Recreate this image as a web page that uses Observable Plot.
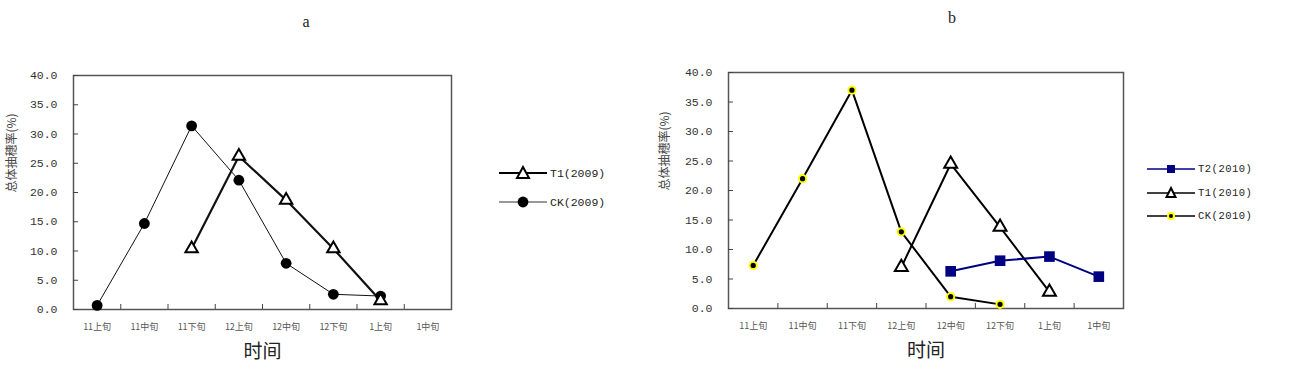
<!DOCTYPE html>
<html>
<head>
<meta charset="utf-8">
<script src="https://cdn.jsdelivr.net/npm/d3@7"></script>
<script src="https://cdn.jsdelivr.net/npm/@observablehq/plot@0.6"></script>
<style>
  html, body { margin: 0; padding: 0; background: #fff; }
  #wrap { position: relative; width: 1296px; height: 376px; overflow: hidden; font-family: "Liberation Serif", "Noto Sans CJK SC", serif; }
  .panel { position: absolute; top: 0; }
  .title { position: absolute; font-size: 16px; color: #222; font-family: "Liberation Serif", serif; transform: translate(-50%, -50%); }
  .legend { position: absolute; font-family: "Liberation Mono", "Noto Sans CJK SC", monospace; font-size: 11.5px; color: #222; }
  .legend .row { position: absolute; display: flex; align-items: center; white-space: nowrap; }
  .legend svg { display: block; }
</style>
</head>
<body>
<div id="wrap"></div>
<script>
// ---- data ----
const periods = ["11上旬", "11中旬", "11下旬", "12上旬", "12中旬", "12下旬", "1上旬", "1中旬"];
const yTicks = [0, 5, 10, 15, 20, 25, 30, 35, 40];
const yLabel = "总体抽穗率(%)";
const xLabel = "时间";

// panel a (2009)
const ck2009 = [0.7, 14.7, 31.4, 22.1, 7.9, 2.6, 2.3, null];
const t1_2009 = [null, null, 10.4, 26.2, 18.7, 10.4, 1.5, null];
// panel b (2010)
const t2_2010 = [null, null, null, null, 6.3, 8.1, 8.8, 5.4];
const t1_2010 = [null, null, null, 7.0, 24.5, 13.8, 2.8, null];
const ck2010 = [7.3, 22.0, 37.0, 13.0, 2.0, 0.7, null, null];

const seriesNames2009 = ["T1(2009)", "CK(2009)"];
const seriesNames2010 = ["T2(2010)", "T1(2010)", "CK(2010)"];

const rows = vals => vals.map((v, i) => ({x: i + 0.5, v})).filter(d => d.v != null);
const boundaries = d3.range(1, periods.length);
const centers = periods.map((p, i) => i + 0.5);

const tickFont = {fontFamily: "Liberation Mono, monospace", fontSize: 11.5, fill: "#333"};
const catFont = {fontFamily: "Noto Sans CJK SC, sans-serif", fontSize: 9, fill: "#555"};

function basePlot({width, marginLeft, marginRight, marginTop, marginBottom, marks, ylabDx, xlabDy}) {
  return Plot.plot({
    width, height: 376, marginLeft, marginRight, marginTop, marginBottom,
    style: {background: "transparent", overflow: "visible"},
    x: {type: "linear", domain: [0, periods.length]},
    y: {domain: [0, 40]},
    marks: [
      Plot.frame({stroke: "#555", strokeWidth: 1.5}),
      Plot.axisY({ticks: yTicks, tickSize: -5, tickPadding: 21, tickFormat: d => d.toFixed(1), label: null, stroke: "#444", ...tickFont}),
      Plot.axisX({ticks: boundaries, tickSize: -5, tickFormat: () => "", label: null, stroke: "#444"}),
      Plot.axisX({ticks: centers, tickSize: 0, tickPadding: 14, tickFormat: d => periods[Math.round(d - 0.5)], label: null, ...catFont}),
      Plot.text([yLabel], {text: d => d, frameAnchor: "left", rotate: -90, dx: ylabDx, fontFamily: "Noto Sans CJK SC, sans-serif", fontSize: 12, fill: "#444"}),
      Plot.text([xLabel], {text: d => d, frameAnchor: "bottom", dy: xlabDy, fontFamily: "Noto Sans CJK SC, sans-serif", fontSize: 19, fill: "#222"}),
      ...marks
    ]
  });
}

// ---- panel a ----
const plotA = basePlot({
  width: 470, marginLeft: 73, marginRight: 19, marginTop: 75, marginBottom: 67, ylabDx: -61, xlabDy: 48,
  marks: [
    Plot.line(rows(ck2009), {x: "x", y: "v", stroke: "#111", strokeWidth: 1}),
    Plot.line(rows(t1_2009), {x: "x", y: "v", stroke: "#111", strokeWidth: 2.2}),
    Plot.dot(rows(ck2009), {x: "x", y: "v", r: 5.4, fill: "#000", stroke: "none"}),
    Plot.dot(rows(t1_2009), {x: "x", y: "v", symbol: "triangle", r: 4.6, fill: "#fff", stroke: "#000", strokeWidth: 2})
  ]
});

// ---- panel b ----
const plotB = basePlot({
  width: 493, marginLeft: 88, marginRight: 10, marginTop: 72, marginBottom: 68, ylabDx: -63, xlabDy: 48,
  marks: [
    Plot.line(rows(ck2010), {x: "x", y: "v", stroke: "#000", strokeWidth: 2}),
    Plot.line(rows(t1_2010), {x: "x", y: "v", stroke: "#000", strokeWidth: 2}),
    Plot.line(rows(t2_2010), {x: "x", y: "v", stroke: "#000080", strokeWidth: 2}),
    Plot.dot(rows(ck2010), {x: "x", y: "v", r: 3.6, fill: "#000", stroke: "#ffff00", strokeWidth: 2}),
    Plot.dot(rows(t1_2010), {x: "x", y: "v", symbol: "triangle", r: 4.8, fill: "#fff", stroke: "#000", strokeWidth: 2}),
    Plot.dot(rows(t2_2010), {x: "x", y: "v", symbol: "square", r: 6, fill: "#000080", stroke: "none"})
  ]
});

const wrap = document.getElementById("wrap");
function place(el, left) { el.classList.add("panel"); el.style.left = left + "px"; wrap.appendChild(el); }
place(plotA, 0);
place(plotB, 640);

function title(t, x, y) {
  const d = document.createElement("div");
  d.className = "title"; d.textContent = t; d.style.left = x + "px"; d.style.top = y + "px";
  wrap.appendChild(d);
}
title("a", 306, 22);
title("b", 952, 18);

// ---- legends ----
function symbolSvg(kind, stroke, lineW) {
  const w = 48, h = 16, cx = 24, cy = 8;
  let sym = "";
  if (kind === "circle") sym = `<circle cx="${cx}" cy="${cy}" r="5.4" fill="#000"/>`;
  if (kind === "tri") sym = `<path d="M${cx},${cy - 6} L${cx + 6},${cy + 5} L${cx - 6},${cy + 5} Z" fill="#fff" stroke="#000" stroke-width="2"/>`;
  if (kind === "tri-s") sym = `<path d="M${cx},${cy - 5} L${cx + 4.5},${cy + 4} L${cx - 4.5},${cy + 4} Z" fill="#fff" stroke="#000" stroke-width="2"/>`;
  if (kind === "square") sym = `<rect x="${cx - 4}" y="${cy - 4}" width="8" height="8" fill="#000080"/>`;
  if (kind === "ydot") sym = `<circle cx="${cx}" cy="${cy}" r="3" fill="#000" stroke="#ffff00" stroke-width="2"/>`;
  return `<svg width="${w}" height="${h}"><line x1="0" x2="${w}" y1="${cy}" y2="${cy}" stroke="${stroke}" stroke-width="${lineW}"/>${sym}</svg>`;
}
function legend(items, left, tops, fontSize, letterSpacing) {
  const lg = document.createElement("div");
  lg.className = "legend"; lg.style.left = left + "px"; lg.style.top = "0px";
  items.forEach((it, k) => {
    const r = document.createElement("div");
    r.className = "row";
    r.style.top = (tops[k] - 8) + "px";
    r.style.fontSize = fontSize + "px";
    r.style.letterSpacing = letterSpacing + "px";
    r.innerHTML = symbolSvg(it.kind, it.stroke, it.lw) + `<span style="margin-left:3px">${it.name}</span>`;
    lg.appendChild(r);
  });
  wrap.appendChild(lg);
}
legend([
  {name: seriesNames2009[0], kind: "tri", stroke: "#000", lw: 2.2},
  {name: seriesNames2009[1], kind: "circle", stroke: "#333", lw: 1}
], 499, [173, 202], 11.5, 0);
legend([
  {name: seriesNames2010[0], kind: "square", stroke: "#000080", lw: 1.5},
  {name: seriesNames2010[1], kind: "tri-s", stroke: "#000", lw: 1.5},
  {name: seriesNames2010[2], kind: "ydot", stroke: "#000", lw: 1.5}
], 1147, [169, 193, 216], 10.5, 0.5);
</script>
</body>
</html>
